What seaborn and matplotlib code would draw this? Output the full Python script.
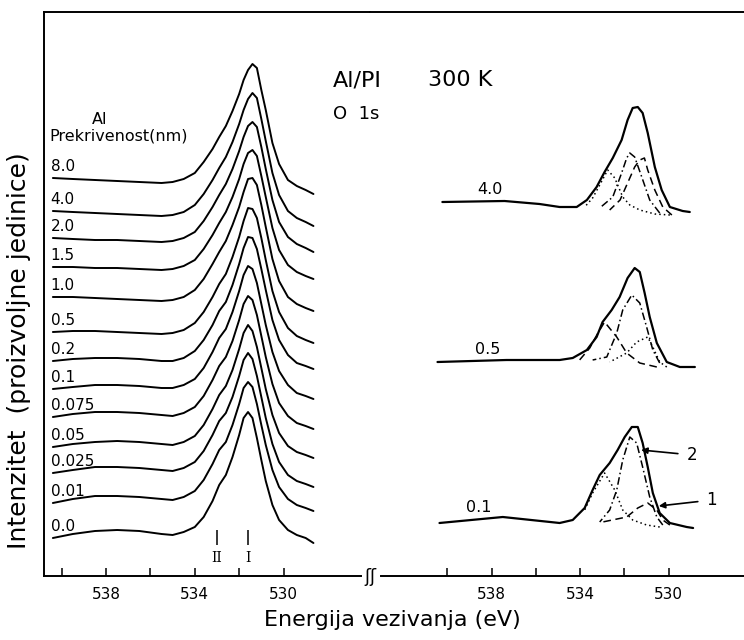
import matplotlib
matplotlib.use('Agg')
import matplotlib.pyplot as plt
import seaborn as sns

sns.set_style('white')
plt.rcParams['font.family'] = ['DejaVu Sans']
plt.rcParams['text.color'] = 'black'
plt.rcParams['axes.labelcolor'] = 'black'

# --- lijevi panel: O 1s spektri za razne prekrivenosti Al (energija u eV) ---
energy_grid = [540.4, 539.5, 538.5, 537.5, 536.5, 535.5, 535.0, 534.5, 534.0, 533.6,
               533.2, 532.9, 532.6, 532.3, 532.0, 531.8, 531.6, 531.4, 531.2, 531.0,
               530.8, 530.5, 530.2, 529.8, 529.4, 529.0, 528.65]

coverage_labels = ['8.0', '4.0', '2.0', '1.5', '1.0', '0.5', '0.2', '0.1',
                   '0.075', '0.05', '0.025', '0.01', '0.0']
coverage_offsets = [398, 365, 338, 309, 279, 244, 215, 187, 159, 129, 103, 73, 38]

coverage_profiles = [
    [0, -1, -2, -3, -4, -5, -4, -1, 5, 16, 29, 41, 52, 67, 84, 98, 108, 114, 110, 88, 68, 35, 14, -2, -8, -12, -16],
    [0, -1, -2, -3, -4, -5, -4, -1, 6, 17, 31, 43, 54, 69, 87, 101, 112, 118, 113, 92, 70, 38, 16, 0, -7, -11, -15],
    [0, -1, -2, -2, -3, -4, -3, 0, 6, 17, 31, 43, 54, 69, 87, 101, 112, 116, 111, 91, 69, 38, 16, 1, -6, -10, -14],
    [0, 0, -1, -1, -2, -3, -2, 1, 7, 18, 32, 44, 55, 70, 88, 103, 114, 117, 111, 91, 70, 39, 17, 2, -5, -9, -12],
    [0, 0, -1, -2, -3, -4, -3, 0, 7, 18, 33, 45, 56, 72, 90, 105, 118, 119, 112, 92, 70, 38, 16, 0, -7, -11, -14],
    [0, 1, 1, 0, -1, -2, -1, 2, 9, 20, 35, 48, 58, 75, 95, 111, 124, 123, 114, 94, 72, 41, 20, 4, -4, -8, -11],
    [0, 2, 3, 3, 2, 0, 0, 3, 10, 21, 36, 50, 59, 76, 97, 113, 124, 123, 112, 92, 71, 41, 21, 6, -2, -5, -8],
    [0, 2, 4, 4, 3, 1, 1, 4, 10, 21, 37, 51, 60, 77, 98, 114, 123, 120, 106, 85, 64, 37, 18, 4, -4, -7, -10],
    [0, 3, 5, 5, 4, 2, 1, 4, 10, 21, 37, 51, 60, 76, 97, 113, 121, 117, 102, 81, 60, 33, 14, 1, -6, -9, -12],
    [0, 3, 5, 6, 5, 3, 2, 5, 11, 22, 38, 52, 61, 77, 98, 114, 122, 116, 100, 79, 58, 32, 14, 1, -5, -8, -11],
    [0, 3, 6, 6, 5, 3, 2, 5, 11, 22, 38, 52, 60, 76, 97, 113, 120, 114, 97, 76, 55, 29, 11, -2, -8, -11, -14],
    [0, 4, 7, 7, 6, 4, 3, 6, 12, 23, 39, 53, 61, 78, 99, 115, 121, 116, 99, 78, 58, 33, 16, 4, -2, -5, -8],
    [0, 4, 7, 8, 7, 4, 3, 6, 11, 21, 37, 53, 63, 81, 103, 120, 126, 120, 100, 78, 57, 33, 18, 8, 3, 0, -5],
]

peak_positions = [533.0, 531.6]
peak_names = ['II', 'I']

# --- desni panel: dekompozicija (ukupno, komponente) ---
s40_total = [(540.23, 374), (537.42, 375), (535.84, 372), (534.93, 369), (534.16, 369),
             (533.7, 376), (533.26, 389), (532.9, 404), (532.53, 418), (532.13, 436),
             (531.86, 456), (531.63, 468), (531.4, 469), (531.18, 463), (530.95, 443),
             (530.63, 409), (530.32, 386), (529.95, 369), (529.37, 365), (529.05, 364)]
s40_left = [(533.8, 369), (533.44, 378), (533.12, 391), (532.76, 406), (532.44, 398),
            (532.08, 379), (531.76, 371), (531.31, 366), (530.63, 362), (529.95, 361)]
s40_mid = [(533.12, 368), (532.53, 379), (532.13, 403), (531.9, 418), (531.76, 423),
           (531.54, 419), (531.22, 399), (530.86, 376), (530.41, 363)]
s40_right = [(532.67, 366), (532.2, 376), (531.86, 393), (531.54, 409), (531.31, 416),
             (531.1, 418), (530.95, 406), (530.63, 386), (530.27, 369), (529.86, 361)]

s05_total = [(540.45, 214), (537.33, 216), (534.93, 216), (534.34, 218), (533.7, 226),
             (533.26, 239), (532.99, 254), (532.58, 266), (532.22, 279), (531.86, 298),
             (531.54, 308), (531.31, 304), (531.09, 283), (530.86, 259), (530.54, 233),
             (530.09, 214), (529.5, 209), (528.82, 209)]
s05_left = [(534.03, 216), (533.57, 228), (533.2, 243), (532.9, 254), (532.35, 239),
            (531.9, 223), (531.31, 213), (530.54, 209)]
s05_mid = [(533.44, 216), (532.8, 219), (532.35, 243), (532.08, 266), (531.67, 281),
           (531.31, 273), (531.0, 249), (530.72, 226), (530.41, 213)]
s05_right = [(532.67, 214), (531.9, 223), (531.45, 234), (530.95, 239), (530.72, 229),
             (530.41, 214), (530.09, 209)]

s01_total = [(540.36, 53), (537.5, 59), (534.93, 53), (534.34, 56), (533.8, 68),
             (533.44, 86), (533.12, 101), (532.67, 113), (532.31, 126), (531.99, 139),
             (531.67, 149), (531.4, 149), (531.18, 133), (530.95, 109), (530.72, 83),
             (530.41, 63), (529.95, 53), (529.19, 49), (528.9, 48)]
s01_left = [(533.8, 66), (533.44, 83), (532.9, 103), (532.44, 86), (532.08, 66),
            (531.63, 56), (531.0, 51), (530.41, 49)]
s01_mid = [(533.12, 54), (532.67, 66), (532.35, 86), (532.08, 116), (531.76, 139),
           (531.45, 133), (531.18, 109), (530.86, 79), (530.54, 59), (530.27, 51)]
s01_right = [(532.99, 54), (531.9, 59), (531.4, 68), (530.95, 73), (530.54, 66),
             (530.27, 56), (529.95, 51)]

right_labels = ['4.0', '0.5', '0.1']
right_label_pos = [(538.1, 386), (538.2, 226), (538.6, 68)]

DOT = (0, (1, 2))
DASHDOT = (0, (5, 2, 1, 2))
DASH = (0, (5, 3))

right_sets = [
    (s40_total, [(s40_left, DOT), (s40_mid, DASHDOT), (s40_right, DASH)]),
    (s05_total, [(s05_left, DASH), (s05_mid, DASHDOT), (s05_right, DOT)]),
    (s01_total, [(s01_left, DOT), (s01_mid, DASHDOT), (s01_right, DASH)]),
]

# ==========================================================================
fig = plt.figure(figsize=(7.44, 6.4), dpi=100)
ax_l = fig.add_axes([44 / 744, 0.1, 326 / 744, 0.88125])
ax_r = fig.add_axes([370 / 744, 0.1, 374 / 744, 0.88125], sharey=ax_l)

for lab, off, prof in zip(coverage_labels, coverage_offsets, coverage_profiles):
    sns.lineplot(x=energy_grid, y=[off + v for v in prof], ax=ax_l, color='black',
                 linewidth=1.4, estimator=None, solid_joinstyle='round')
    ax_l.text(540.5, off + 4, lab, fontsize=11, ha='left', va='bottom')

ax_l.vlines(peak_positions, 31, 46, color='black', linewidth=1.1)
for p, n in zip(peak_positions, peak_names):
    ax_l.text(p, 18, n, fontsize=10, ha='center', va='center', family='DejaVu Serif')

ax_l.text(538.3, 457, 'Al', fontsize=11.5, ha='center', va='center')
ax_l.text(540.55, 440, 'Prekrivenost(nm)', fontsize=11.5, ha='left', va='center')

for (total, comps), lab, pos in zip(right_sets, right_labels, right_label_pos):
    sns.lineplot(x=[p[0] for p in total], y=[p[1] for p in total], ax=ax_r,
                 color='black', linewidth=1.6, estimator=None, solid_joinstyle='round')
    for comp, ls in comps:
        sns.lineplot(x=[p[0] for p in comp], y=[p[1] for p in comp], ax=ax_r,
                     color='black', linewidth=1.1, linestyle=ls, estimator=None)
    ax_r.text(pos[0], pos[1], lab, fontsize=11.5, ha='center', va='center')

ax_r.annotate('2', xy=(531.25, 126), xytext=(528.95, 121), fontsize=12,
              ha='center', va='center',
              arrowprops=dict(arrowstyle='-|>', color='black', lw=1.2,
                              shrinkA=4, shrinkB=0, mutation_scale=9))
ax_r.annotate('1', xy=(530.45, 70), xytext=(528.05, 76), fontsize=12,
              ha='center', va='center',
              arrowprops=dict(arrowstyle='-|>', color='black', lw=1.2,
                              shrinkA=4, shrinkB=0, mutation_scale=9))

# osi
ax_l.set_xlim(540.8, 526.1)
ax_r.set_xlim(543.5, 526.6)
ax_l.set_ylim(0, 564)

for ax in (ax_l, ax_r):
    ax.set_xticks([538, 534, 530])
    ax.set_xticklabels(['538', '534', '530'])
    ax.set_xticks([540, 536, 532], minor=True)
    ax.tick_params(axis='x', which='both', direction='in', length=6, width=1.1,
                   bottom=True, labelsize=11, pad=8, colors='black')
    ax.tick_params(axis='y', left=False, labelleft=False)
    ax.set_xlabel('')
    for s in ax.spines.values():
        s.set_linewidth(1.4)
        s.set_color('black')
    ax.spines['right'].set_visible(False)

ax_r.spines['left'].set_visible(False)
ax_l.spines['bottom'].set_bounds(540.8, 526.5)
ax_r.spines['bottom'].set_bounds(543.0, 526.6)

ax_l.set_ylabel('Intenzitet  (proizvoljne jedinice)', fontsize=18)
ax_l.yaxis.set_label_coords(-0.04, 0.40)

fig.text(370 / 744, 1 - 577 / 640, 'ʃʃ', fontsize=13, ha='center', va='center')
fig.text(392 / 744, 1 - 620 / 640, 'Energija vezivanja (eV)', fontsize=16,
         ha='center', va='center')
fig.text(333 / 744, 1 - 80 / 640, 'Al/PI', fontsize=16, ha='left', va='center')
fig.text(428 / 744, 1 - 80 / 640, '300 K', fontsize=16, ha='left', va='center')
fig.text(333 / 744, 1 - 114 / 640, 'O  1s', fontsize=13, ha='left', va='center')

fig.savefig('out.png', dpi=100)
